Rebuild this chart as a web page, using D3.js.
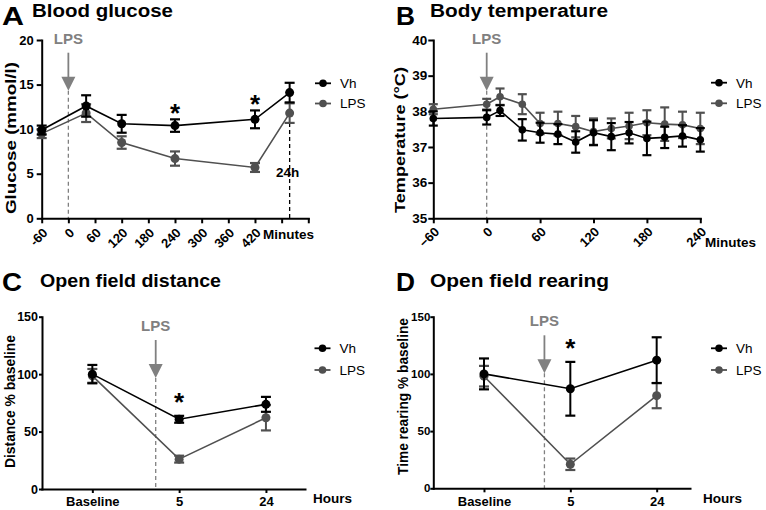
<!DOCTYPE html>
<html><head><meta charset="utf-8">
<script src="https://cdn.jsdelivr.net/npm/d3@7"></script>
<style>
body{margin:0;background:#fff;}
svg{display:block;font-family:"Liberation Sans",Arial,Helvetica,sans-serif;}
</style></head><body>
<svg id="chart" width="766" height="510"></svg>
<script>
// ---------- DATA ----------
const seriesNames = ["Vh", "LPS"];

// A: Blood glucose (minutes; last point is 24 h)
const glucoseTime = [-60, 40, 120, 240, 420, 498];
const glucoseVh = [9.9, 12.6, 10.6, 10.4, 11.1, 14.1];
const glucoseVhErr = [0.5, 1.2, 1.0, 0.7, 1.0, 1.1];
const glucoseLps = [9.5, 11.8, 8.5, 6.7, 5.7, 11.8];
const glucoseLpsErr = [0.5, 1.0, 0.7, 0.8, 0.5, 1.1];
const glucoseXTicks = [-60, 0, 60, 120, 180, 240, 300, 360, 420, 480, 540];
const glucoseXLabels = ["-60", "0", "60", "120", "180", "240", "300", "360", "420", "", ""];
const glucoseYTicks = [0, 5, 10, 15, 20];
const glucoseStars = [{x: 240, y: 12.4}, {x: 420, y: 13.4}];

// B: Body temperature
const tempTime = [-60, 0, 15, 40, 60, 80, 100, 120, 140, 160, 180, 200, 220, 240];
const tempVh = [37.80, 37.83, 38.02, 37.48, 37.40, 37.36, 37.14, 37.40, 37.29, 37.40, 37.24, 37.27, 37.31, 37.20];
const tempVhErr = [0.20, 0.20, 0.15, 0.30, 0.28, 0.28, 0.30, 0.35, 0.38, 0.30, 0.47, 0.30, 0.30, 0.33];
const tempLps = [38.06, 38.20, 38.41, 38.20, 37.66, 37.66, 37.57, 37.43, 37.52, 37.59, 37.68, 37.64, 37.62, 37.52];
const tempLpsErr = [0.14, 0.15, 0.23, 0.28, 0.30, 0.33, 0.30, 0.37, 0.28, 0.37, 0.35, 0.47, 0.37, 0.44];
const tempXTicks = [-60, 0, 60, 120, 180, 240];
const tempYTicks = [35, 36, 37, 38, 39, 40];

// C: Open field distance
const hourCats = ["Baseline", "5", "24"];
const distVh = [100, 60.7, 73.7];
const distVhErr = [8, 3, 6.5];
const distLps = [98.5, 26, 62];
const distLpsErr = [6, 3, 11];
const distStars = [{x: 1, y: 80.3}];

// D: Open field rearing
const rearVh = [100, 87, 112];
const rearVhErr = [13.5, 23.5, 20];
const rearLps = [98, 21, 81];
const rearLpsErr = [9, 5, 11];
const rearStars = [{x: 1, y: 126.7}];

const pctYTicks = [0, 50, 100, 150];

// ---------- STYLE ----------
const VH_COLOR = "#000000", LPS_COLOR = "#505050", ANNOT = "#808080";
const svg = d3.select("#chart");

function drawSeries(g, x, y, xs, ys, es, color, r, cap) {
  const s = g.append("g");
  s.append("path")
    .attr("d", d3.line().x((d, i) => x(xs[i])).y(d => y(d))(ys))
    .attr("fill", "none").attr("stroke", color).attr("stroke-width", 1.6);
  ys.forEach((v, i) => {
    const cx = x(xs[i]), yt = y(v + es[i]), yb = y(v - es[i]);
    s.append("line").attr("x1", cx).attr("x2", cx).attr("y1", yt).attr("y2", yb)
      .attr("stroke", color).attr("stroke-width", 2);
    [yt, yb].forEach(yy => s.append("line").attr("x1", cx - cap).attr("x2", cx + cap)
      .attr("y1", yy).attr("y2", yy).attr("stroke", color).attr("stroke-width", 2.2));
  });
  s.selectAll("circle").data(ys).join("circle")
    .attr("cx", (d, i) => x(xs[i])).attr("cy", d => y(d)).attr("r", r).attr("fill", color);
}

function panel(cfg) {
  const x = d3.scaleLinear().domain(cfg.xDomain).range([cfg.left, cfg.right]);
  const y = d3.scaleLinear().domain(cfg.yDomain).range([cfg.bottom, cfg.top]);
  const g = svg.append("g");

  g.append("text").attr("x", cfg.letterX).attr("y", cfg.letterY).text(cfg.letter)
    .attr("font-size", 26).attr("font-weight", "bold")
    .attr("textLength", cfg.letterLen).attr("lengthAdjust", "spacingAndGlyphs");
  g.append("text").attr("x", cfg.titleX).attr("y", cfg.titleY).text(cfg.title)
    .attr("font-size", 17.5).attr("font-weight", "bold")
    .attr("textLength", cfg.titleLen).attr("lengthAdjust", "spacingAndGlyphs");

  // y axis title
  g.append("text")
    .attr("transform", `translate(${cfg.yLabelX},${cfg.yLabelY}) rotate(-90)`)
    .attr("text-anchor", "middle").attr("font-size", 15.5).attr("font-weight", "bold")
    .attr("textLength", cfg.yLabelLen).attr("lengthAdjust", "spacingAndGlyphs")
    .text(cfg.yLabel);

  // LPS annotation
  const ax = x(cfg.lpsX), hb = cfg.arrowBottom;
  g.append("line").attr("x1", ax).attr("x2", ax).attr("y1", hb).attr("y2", cfg.bottom)
    .attr("stroke", ANNOT).attr("stroke-width", 1.3).attr("stroke-dasharray", "4,3");
  g.append("line").attr("x1", ax).attr("x2", ax).attr("y1", hb - 38).attr("y2", hb - 13)
    .attr("stroke", ANNOT).attr("stroke-width", 1.8);
  g.append("path").attr("d", `M${ax - 7},${hb - 14}L${ax + 7},${hb - 14}L${ax},${hb}Z`).attr("fill", ANNOT);
  g.append("text").attr("x", ax).attr("y", hb - 47).attr("text-anchor", "middle")
    .attr("font-size", 15).attr("font-weight", "bold").attr("fill", ANNOT).text("LPS");

  if (cfg.extra) cfg.extra(g, x, y);

  // axes
  const ya = g.append("g").attr("transform", `translate(${cfg.left},0)`)
    .call(d3.axisLeft(y).tickValues(cfg.yTicks).tickFormat(d3.format("d"))
      .tickSize(cfg.yTickSize).tickPadding(cfg.yPad).tickSizeOuter(0));
  const xa = g.append("g").attr("transform", `translate(0,${cfg.bottom})`)
    .call(d3.axisBottom(x).tickValues(cfg.xTicks).tickFormat(cfg.xFormat)
      .tickSize(cfg.xTickSize).tickPadding(4).tickSizeOuter(0));
  [ya, xa].forEach(a => {
    a.select(".domain").attr("stroke-width", 2).attr("stroke-linecap", "square");
    a.selectAll(".tick line").attr("stroke-width", 2);
    a.selectAll(".tick text").attr("font-size", 13).attr("font-weight", "bold")
      .attr("font-family", "Liberation Sans, Arial, sans-serif").attr("fill", "#000");
  });
  ya.selectAll(".tick text").attr("font-size", cfg.yFont);
  if (cfg.rotate) {
    xa.selectAll(".tick text").attr("text-anchor", "end").attr("x", 0).attr("y", 0)
      .attr("dy", "0.35em").attr("transform", `translate(${cfg.rotOff[0]},${cfg.rotOff[1]}) rotate(-45)`);
  }
  g.append("text").attr("x", cfg.unitX).attr("y", cfg.unitY).text(cfg.unit)
    .attr("font-size", 13.5).attr("font-weight", "bold");

  // series (LPS below Vh)
  drawSeries(g, x, y, cfg.xs, cfg.lps, cfg.lpsErr, LPS_COLOR, cfg.r, cfg.cap);
  drawSeries(g, x, y, cfg.xs, cfg.vh, cfg.vhErr, VH_COLOR, cfg.r, cfg.cap);

  // stars
  g.selectAll(".star").data(cfg.stars).join("text").attr("class", "star")
    .attr("x", d => x(d.x)).attr("y", d => y(d.y) + 14).attr("text-anchor", "middle")
    .attr("font-size", 26).attr("font-weight", "bold").text("*");

  // legend
  const colors = [VH_COLOR, LPS_COLOR];
  seriesNames.forEach((n, i) => {
    const ly = cfg.legY[i];
    g.append("line").attr("x1", cfg.legX - 8).attr("x2", cfg.legX + 8).attr("y1", ly).attr("y2", ly)
      .attr("stroke", colors[i]).attr("stroke-width", 1.8);
    g.append("circle").attr("cx", cfg.legX).attr("cy", ly).attr("r", 3.8).attr("fill", colors[i]);
    g.append("text").attr("x", cfg.legX + 17).attr("y", ly).attr("dy", "0.36em")
      .attr("font-size", 13.5).attr("fill", "#000").text(n);
  });
}

// A
panel({
  letter: "A", letterX: 2, letterY: 25, letterLen: 22,
  title: "Blood glucose", titleX: 32, titleY: 17, titleLen: 141,
  xDomain: [-60, 540], yDomain: [0, 20], left: 41.7, right: 308.3, bottom: 218.3, top: 40,
  yTicks: glucoseYTicks, yTickSize: 5, yPad: 3, yFont: 13,
  xTicks: glucoseXTicks, xFormat: (d, i) => glucoseXLabels[i], xTickSize: 5,
  rotate: true, rotOff: [3, 12],
  yLabel: "Glucose (mmol/l)", yLabelX: 15.5, yLabelY: 138, yLabelLen: 152,
  lpsX: 0, arrowBottom: 90.7,
  unit: "Minutes", unitX: 263, unitY: 239,
  xs: glucoseTime, vh: glucoseVh, vhErr: glucoseVhErr, lps: glucoseLps, lpsErr: glucoseLpsErr,
  r: 4.5, cap: 5, stars: glucoseStars, legX: 323, legY: [83.3, 103.5],
  extra: (g, x, y) => {
    const xx = x(glucoseTime[glucoseTime.length - 1]);
    g.append("line").attr("x1", xx).attr("x2", xx)
      .attr("y1", y(glucoseLps[5] - glucoseLpsErr[5])).attr("y2", y(0))
      .attr("stroke", "#000").attr("stroke-width", 1.3).attr("stroke-dasharray", "4,3");
    g.append("text").attr("x", xx - 2).attr("y", y(4.6)).attr("text-anchor", "middle")
      .attr("font-size", 13.5).attr("font-weight", "bold").text("24h");
  }
});

// B
panel({
  letter: "B", letterX: 396, letterY: 25, letterLen: 19,
  title: "Body temperature", titleX: 430, titleY: 17, titleLen: 178,
  xDomain: [-60, 240], yDomain: [35, 40], left: 433.3, right: 700.3, bottom: 218.3, top: 40,
  yTicks: tempYTicks, yTickSize: 5, yPad: 1, yFont: 13.5,
  xTicks: tempXTicks, xFormat: d3.format("d"), xTickSize: 5,
  rotate: true, rotOff: [3, 11],
  yLabel: "Temperature (°C)", yLabelX: 405, yLabelY: 140, yLabelLen: 146,
  lpsX: 0, arrowBottom: 90.7,
  unit: "Minutes", unitX: 705, unitY: 247,
  xs: tempTime, vh: tempVh, vhErr: tempVhErr, lps: tempLps, lpsErr: tempLpsErr,
  r: 3.8, cap: 4.5, stars: [], legX: 719, legY: [82.7, 103.3]
});

// C
panel({
  letter: "C", letterX: 2, letterY: 291, letterLen: 20,
  title: "Open field distance", titleX: 40, titleY: 287, titleLen: 181,
  xDomain: [-0.58, 2.45], yDomain: [0, 150], left: 42, right: 305, bottom: 489, top: 316.7,
  yTicks: pctYTicks, yTickSize: 3, yPad: 1, yFont: 12.5,
  xTicks: [0, 1, 2], xFormat: (d, i) => hourCats[i], xTickSize: 4,
  rotate: false,
  yLabel: "Distance % baseline", yLabelX: 14.5, yLabelY: 401.5, yLabelLen: 133,
  lpsX: 0.73, arrowBottom: 378,
  unit: "Hours", unitX: 313, unitY: 503,
  xs: [0, 1, 2], vh: distVh, vhErr: distVhErr, lps: distLps, lpsErr: distLpsErr,
  r: 4.5, cap: 5, stars: distStars, legX: 322.5, legY: [348.3, 370]
});

// D
panel({
  letter: "D", letterX: 396, letterY: 291, letterLen: 19,
  title: "Open field rearing", titleX: 430, titleY: 287, titleLen: 179,
  xDomain: [-0.587, 2.386], yDomain: [0, 150], left: 433.3, right: 690, bottom: 488.3, top: 316.7,
  yTicks: pctYTicks, yTickSize: 3, yPad: 0, yFont: 11.5,
  xTicks: [0, 1, 2], xFormat: (d, i) => hourCats[i], xTickSize: 4,
  rotate: false,
  yLabel: "Time rearing % baseline", yLabelX: 407.5, yLabelY: 396.5, yLabelLen: 157,
  lpsX: 0.70, arrowBottom: 373.3,
  unit: "Hours", unitX: 703, unitY: 503,
  xs: [0, 1, 2], vh: rearVh, vhErr: rearVhErr, lps: rearLps, lpsErr: rearLpsErr,
  r: 4.5, cap: 5, stars: rearStars, legX: 719, legY: [348.3, 370]
});
</script>
</body></html>
